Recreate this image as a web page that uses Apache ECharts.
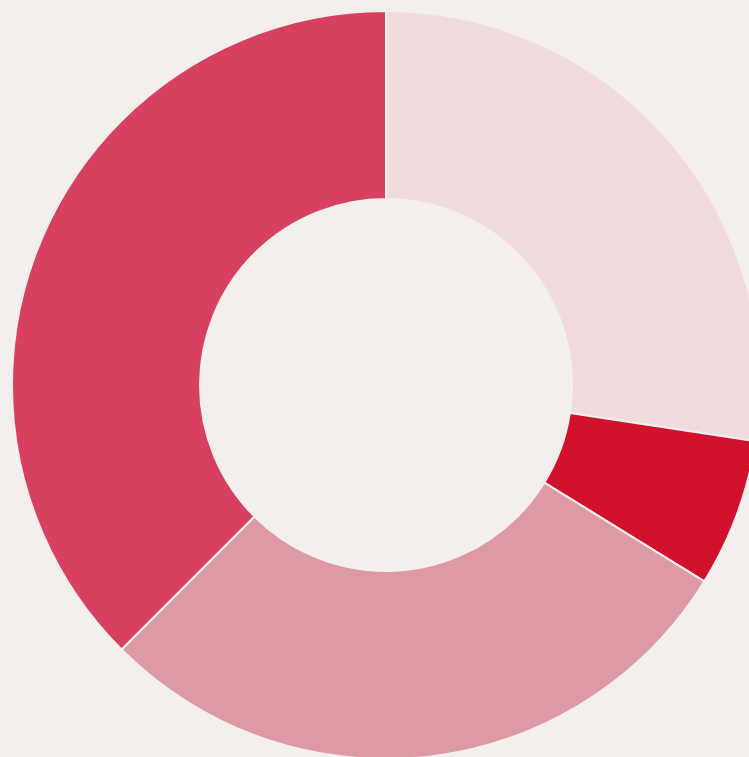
<!DOCTYPE html>
<html>
<head>
<meta charset="utf-8">
<script src="https://cdn.jsdelivr.net/npm/echarts@6/dist/echarts.min.js"></script>
<style>
html,body{margin:0;padding:0;background:#f3efed;}
#c{width:749px;height:757px;}
</style>
</head>
<body>
<div id="c"></div>
<script>
const categories = ['A', 'B', 'C', 'D'];
const values = [27.4, 6.4, 28.7, 37.5];
const colors = ['#f2dbdd', '#d2112c', '#dd9aa5', '#d7405f'];

const chart = echarts.init(document.getElementById('c'), null, {renderer: 'canvas'});
chart.setOption({
  backgroundColor: '#f3efed',
  animation: false,
  series: [{
    type: 'pie',
    center: [386, 385],
    radius: [186, 374],
    startAngle: 90,
    clockwise: true,
    label: {show: false},
    labelLine: {show: false},
    itemStyle: {borderColor: '#f3efed', borderWidth: 2},
    emphasis: {disabled: true},
    data: categories.map((c, i) => ({name: c, value: values[i], itemStyle: {color: colors[i]}}))
  }]
});
</script>
</body>
</html>
